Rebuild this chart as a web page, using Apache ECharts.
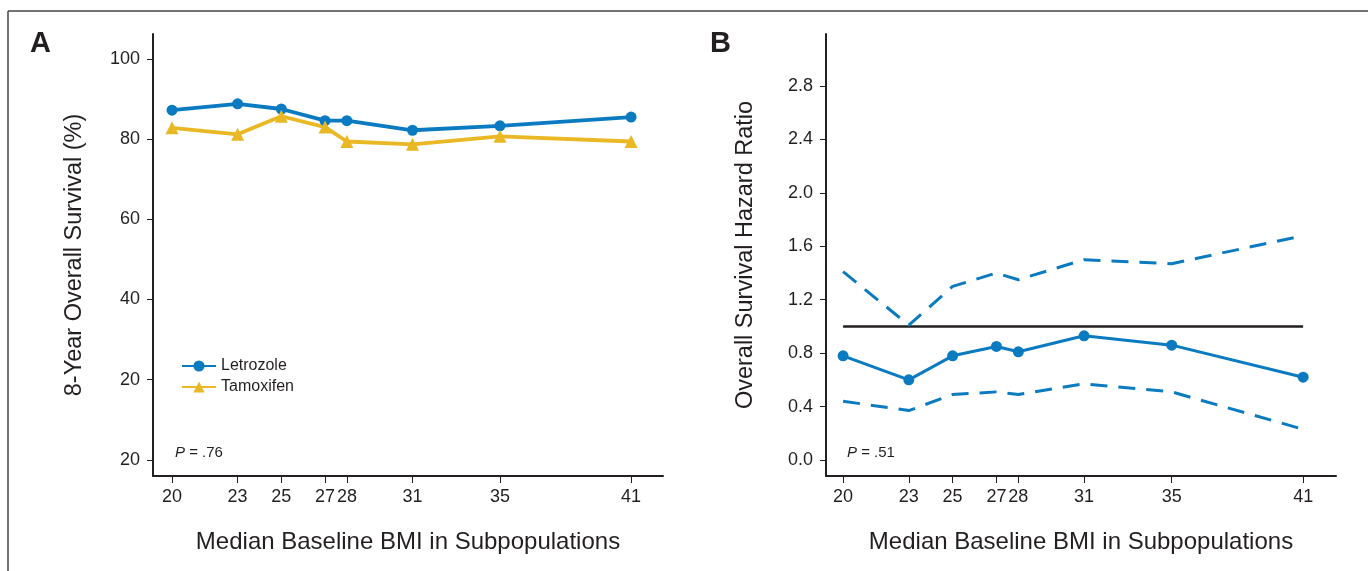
<!DOCTYPE html>
<html>
<head>
<meta charset="utf-8">
<script src="https://cdn.jsdelivr.net/npm/echarts@6/dist/echarts.min.js"></script>
<style>
  html, body { margin: 0; padding: 0; background: #fff; }
  #chart { width: 1368px; height: 571px; }
</style>
</head>
<body>
<div id="chart"></div>
<script>
// BMI subpopulation medians (x)
const bmi = [20, 23, 25, 27, 28, 31, 35, 41]

// panel A: 8-year overall survival (%)
const letrozole = [87.2, 88.8, 87.5, 84.6, 84.6, 82.2, 83.3, 85.5]
const tamoxifen = [82.8, 81.2, 85.7, 83.0, 79.4, 78.7, 80.7, 79.4]

// panel B: hazard ratio and CI bounds
const hazard = [0.78, 0.60, 0.78, 0.85, 0.81, 0.93, 0.86, 0.62]
const upperCI = [1.41, 1.01, 1.30, 1.40, 1.35, 1.50, 1.47, 1.68]
const lowerCI = [0.44, 0.37, 0.49, 0.51, 0.49, 0.57, 0.51, 0.23]
const refLine = [1, 1]
const refX = [20, 41]

// tick labels
const yTicksA = [0, 20, 40, 60, 80, 100]
const yTickLabelsA = ['20', '20', '40', '60', '80', '100']
const yTicksB = [0, 0.4, 0.8, 1.2, 1.6, 2.0, 2.4, 2.8]
const yTickLabelsB = ['0.0', '0.4', '0.8', '1.2', '1.6', '2.0', '2.4', '2.8']

const blue = '#0a7bc1'
const gold = '#e9b824'
const ink = '#231f20'
const sans = '"Liberation Sans", Arial, sans-serif'

function pairs (xs, ys) {
  return xs.map((x, i) => [x, ys[i]])
}

function xAxisOpt (gridIndex, min, max) {
  return {
    type: 'value',
    gridIndex: gridIndex,
    min: min,
    max: max,
    name: 'Median Baseline BMI in Subpopulations',
    nameLocation: 'middle',
    nameGap: 54,
    nameTextStyle: { fontFamily: sans, fontSize: 24, color: ink },
    axisLine: { onZero: false, lineStyle: { color: ink, width: 2 } },
    axisTick: { show: true, customValues: bmi, length: 7, lineStyle: { color: ink, width: 1 } },
    axisLabel: { customValues: bmi, margin: 12, fontFamily: sans, fontSize: 18, color: ink },
    splitLine: { show: false }
  }
}

function yAxisOpt (gridIndex, min, max, ticks, labels, name, gap) {
  return {
    type: 'value',
    gridIndex: gridIndex,
    min: min,
    max: max,
    name: name,
    nameLocation: 'middle',
    nameGap: gap,
    nameTextStyle: { fontFamily: sans, fontSize: 23.5, color: ink },
    axisLine: { show: true, onZero: false, lineStyle: { color: ink, width: 2 } },
    axisTick: { show: true, customValues: ticks, length: 6, lineStyle: { color: ink, width: 1 } },
    axisLabel: {
      customValues: ticks,
      margin: 13,
      fontFamily: sans,
      fontSize: 18,
      color: ink,
      formatter: function (v) {
        let i = ticks.findIndex(t => Math.abs(t - v) < 1e-6)
        return i >= 0 ? labels[i] : ''
      }
    },
    splitLine: { show: false }
  }
}

const chart = echarts.init(document.getElementById('chart'))
chart.setOption({
  animation: false,
  grid: [
    { left: 153, right: 705, top: 34, bottom: 95 },
    { left: 826, right: 32, top: 34, bottom: 95 }
  ],
  xAxis: [
    xAxisOpt(0, 19.13, 42.46),
    xAxisOpt(1, 19.22, 42.5)
  ],
  yAxis: [
    yAxisOpt(0, -4, 106.2, yTicksA, yTickLabelsA, '8-Year Overall Survival (%)', 66),
    yAxisOpt(1, -0.12, 3.19, yTicksB, yTickLabelsB, 'Overall Survival Hazard Ratio', 68)
  ],
  legend: {
    left: 176,
    top: 353,
    orient: 'vertical',
    itemWidth: 34,
    itemHeight: 14,
    itemGap: 5,
    textStyle: { fontFamily: sans, fontSize: 16, color: ink },
    data: ['Letrozole', 'Tamoxifen']
  },
  series: [
    {
      name: 'Letrozole',
      type: 'line',
      xAxisIndex: 0,
      yAxisIndex: 0,
      symbol: 'circle',
      symbolSize: 11,
      lineStyle: { width: 3.8, color: blue },
      itemStyle: { color: blue },
      data: pairs(bmi, letrozole)
    },
    {
      name: 'Tamoxifen',
      type: 'line',
      xAxisIndex: 0,
      yAxisIndex: 0,
      symbol: 'triangle',
      symbolSize: 13,
      lineStyle: { width: 3.8, color: gold },
      itemStyle: { color: gold },
      data: pairs(bmi, tamoxifen)
    },
    {
      name: 'ref',
      type: 'line',
      xAxisIndex: 1,
      yAxisIndex: 1,
      symbol: 'none',
      lineStyle: { width: 2.5, color: ink },
      data: pairs(refX, refLine)
    },
    {
      name: 'upper',
      type: 'line',
      xAxisIndex: 1,
      yAxisIndex: 1,
      symbol: 'none',
      lineStyle: { width: 3, color: blue, type: [17, 11] },
      data: pairs(bmi, upperCI)
    },
    {
      name: 'lower',
      type: 'line',
      xAxisIndex: 1,
      yAxisIndex: 1,
      symbol: 'none',
      lineStyle: { width: 3, color: blue, type: [17, 11] },
      data: pairs(bmi, lowerCI)
    },
    {
      name: 'HR',
      type: 'line',
      xAxisIndex: 1,
      yAxisIndex: 1,
      symbol: 'circle',
      symbolSize: 11,
      lineStyle: { width: 3, color: blue },
      itemStyle: { color: blue },
      data: pairs(bmi, hazard)
    }
  ],
  graphic: [
    // outer frame (top and left edges)
    { type: 'line', shape: { x1: 8, y1: 11, x2: 1368, y2: 11 }, style: { stroke: '#444', lineWidth: 1.5 } },
    { type: 'line', shape: { x1: 8, y1: 11, x2: 8, y2: 571 }, style: { stroke: '#444', lineWidth: 1.5 } },
    { type: 'text', left: 30, top: 29, style: { text: 'A', font: 'bold 29px "Liberation Sans", Arial', fill: ink } },
    { type: 'text', left: 710, top: 29, style: { text: 'B', font: 'bold 29px "Liberation Sans", Arial', fill: ink } },
    {
      type: 'text', left: 175, top: 445,
      style: {
        text: '{i|P} = .76',
        font: '15px "Liberation Sans", Arial',
        fill: ink,
        rich: { i: { fontStyle: 'italic', fontSize: 15, fontFamily: 'Liberation Sans, Arial' } }
      }
    },
    {
      type: 'text', left: 847, top: 445,
      style: {
        text: '{i|P} = .51',
        font: '15px "Liberation Sans", Arial',
        fill: ink,
        rich: { i: { fontStyle: 'italic', fontSize: 15, fontFamily: 'Liberation Sans, Arial' } }
      }
    }
  ]
})
</script>
</body>
</html>
